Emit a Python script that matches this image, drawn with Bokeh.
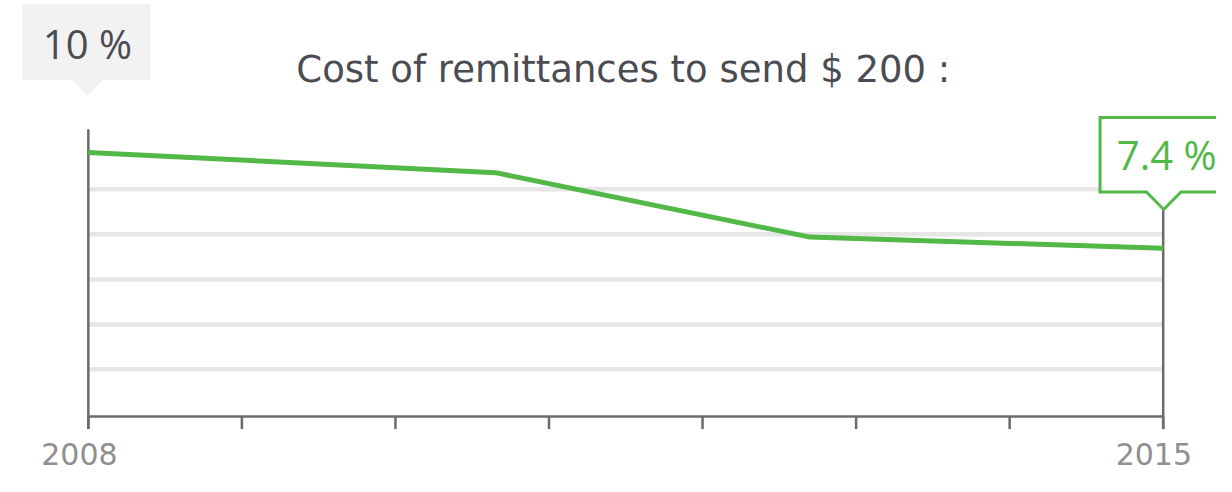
from bokeh.plotting import figure
from bokeh.models import Range1d
from bokeh.embed import file_html
from bokeh.resources import INLINE
from bokeh.core.properties import value

# ---- data ----
title_text = "Cost of remittances to send $ 200 :"
years = [2008, 2010.65, 2012.70, 2015]
cost_pct = [10.0, 9.45, 7.70, 7.4]
tick_years = [2008, 2009, 2010, 2011, 2012, 2013, 2014, 2015]
label_texts = ["2008", "2015"]
grid_pct = [9.0, 7.78, 6.55, 5.33, 4.11]
axis_bottom_pct = 2.83
axis_top_pct = 10.63
start_label = "10 %"
end_label = "7.4 %"

# ---- layout: design grid of 1232 x 492, drawn into a 1216 x 476 figure ----
W, H = 1216, 476
DW, DH = 1232, 492
X0_PX, X1_PX = 89, 1178      # design x of first / last year
YA_PX, YB_PX = 157, 256      # design y of first / last value

sx = (X1_PX - X0_PX) / (years[-1] - years[0])
sy = (YB_PX - YA_PX) / (cost_pct[0] - cost_pct[-1])


def X(px):
    return years[0] + (px - X0_PX) / sx


def Y(py):
    return cost_pct[0] - (py - YA_PX) / sy


TFONT = value("DejaVu Sans")
NFONT = value("Open Sans")
GREEN = "#52b848"
DARK = "#4b4b52"
AXIS = "#6b6b6b"
GRID = "#e6e6e6"

p = figure(width=W, height=H,
           x_range=Range1d(X(0), X(DW)),
           y_range=Range1d(Y(DH), Y(0)),
           output_backend="svg", toolbar_location=None, tools="",
           x_axis_location=None, y_axis_location=None,
           min_border=0, outline_line_color=None,
           background_fill_color="white", border_fill_color="white")
p.xgrid.visible = False
p.ygrid.visible = False

# grid lines
p.segment(x0=[years[0]] * len(grid_pct), x1=[years[-1]] * len(grid_pct),
          y0=grid_pct, y1=grid_pct, line_color=GRID, line_width=4.5)

# axes
p.segment(x0=[years[0]], x1=[years[-1]], y0=[axis_bottom_pct], y1=[axis_bottom_pct],
          line_color=AXIS, line_width=2.5)
p.segment(x0=[years[0]], x1=[years[0]], y0=[Y(443)], y1=[axis_top_pct],
          line_color=AXIS, line_width=2.5)
p.segment(x0=[years[-1]], x1=[years[-1]], y0=[Y(443)], y1=[Y(216)],
          line_color=AXIS, line_width=2.5)
p.segment(x0=tick_years, x1=tick_years,
          y0=[axis_bottom_pct] * len(tick_years), y1=[Y(443)] * len(tick_years),
          line_color=AXIS, line_width=2.5)

# year labels
p.text(x=[X(80), X(1168.5)], y=[Y(469)] * 2, text=label_texts,
       text_font=TFONT, text_font_size="30px", text_color="#8f8f8f",
       text_align="center", text_baseline="middle")

# data line
p.line(years, cost_pct, line_color=GREEN, line_width=5, line_join="round")

# start callout (grey)
p.quad(left=[X(22)], right=[X(152)], top=[Y(4)], bottom=[Y(82)],
       fill_color="#f2f2f2", line_color=None)
p.patch([X(72), X(104), X(88)], [Y(81.5), Y(81.5), Y(99)],
        fill_color="#f2f2f2", line_color=None)
p.text(x=[X(88)], y=[Y(44.5)], text=[start_label], text_font=NFONT,
       text_font_size="40px", text_color=DARK, text_align="center",
       text_baseline="middle")

# end callout (green outline)
p.patch([X(1114), X(1260), X(1260), X(1196), X(1178.5), X(1161), X(1114)],
        [Y(121), Y(121), Y(198), Y(198), Y(216), Y(198), Y(198)],
        fill_color="white", line_color=GREEN, line_width=3, line_join="miter")
p.text(x=[X(1181.5)], y=[Y(159)], text=[end_label], text_font=NFONT,
       text_font_size="40px", text_color=GREEN, text_align="center",
       text_baseline="middle")

# title
p.text(x=[X(631)], y=[Y(71)], text=[title_text], text_font=TFONT,
       text_font_size="37px", text_color=DARK, text_align="center",
       text_baseline="middle")

open("out.html", "w").write(file_html(p, INLINE))
